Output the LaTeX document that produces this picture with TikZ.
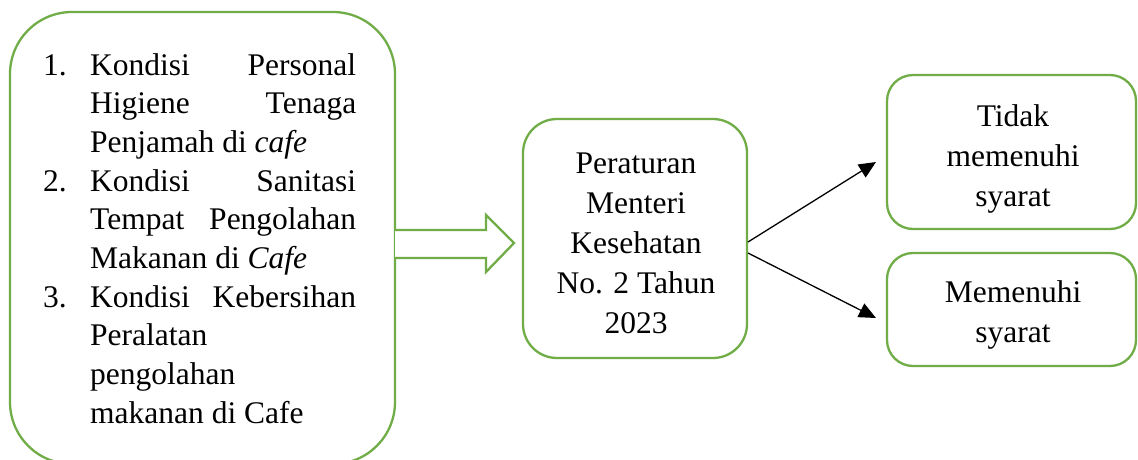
\documentclass[tikz,border=0pt]{standalone}
\usepackage{fontspec}
\setmainfont{Liberation Serif}
\usetikzlibrary{arrows.meta}
\definecolor{boxgreen}{HTML}{70AD47}
\tikzset{
  gbox/.style={draw=boxgreen, line width=2.3pt, rounded corners=#1, fill=white},
  txt/.style={inner sep=0pt, font=\fontsize{31.5}{40}\selectfont},
  conn/.style={line width=1.3pt, -{Triangle[length=17pt,width=15pt]}},
}
\begin{document}
\begin{tikzpicture}[x=1pt,y=-1pt]
\useasboundingbox (0,0) rectangle (1138,459);
\clip (0,0) rectangle (1138,459);
\fill[white] (0,0) rectangle (1138,459);
% left box
\draw[gbox=62pt] (10,12) rectangle (395,464);
\node[txt, anchor=base west] (lefttext) at (43,75) {\parbox[t]{320pt}{\fontsize{31.5}{38.7}\selectfont
\makebox[47pt][l]{1.}\hbox to 266pt{Kondisi\hfill Personal}\\
\hspace*{47pt}\hbox to 266pt{Higiene\hfill Tenaga}\\
\hspace*{47pt}Penjamah di \textit{cafe}\\
\makebox[47pt][l]{2.}\hbox to 266pt{Kondisi\hfill Sanitasi}\\
\hspace*{47pt}\hbox to 266pt{Tempat\hfill Pengolahan}\\
\hspace*{47pt}Makanan di \textit{Cafe}\\
\makebox[47pt][l]{3.}\hbox to 266pt{Kondisi\hfill Kebersihan}\\
\hspace*{47pt}Peralatan\\
\hspace*{47pt}pengolahan\\
\hspace*{47pt}makanan di Cafe}};
% middle box
\draw[gbox=34pt] (523,119) rectangle (747,358);
\node[txt, align=center, anchor=base] (mid) at (636,333) {Peraturan\\Menteri\\Kesehatan\\No. 2 Tahun\\2023};
% hollow arrow
\draw[boxgreen, line width=2.3pt, line join=miter, fill=white]
  (395,230) -- (486,230) -- (486,215) -- (514,243) -- (486,272) -- (486,258) -- (395,258);
% right boxes
\draw[gbox=26pt] (887,75) rectangle (1136,229);
\node[txt, align=center, anchor=base] (tms) at (1013,206) {Tidak\\memenuhi\\syarat};
\draw[gbox=26pt] (887,253) rectangle (1136,366);
\node[txt, align=center, anchor=base] (ms) at (1013,342) {Memenuhi\\syarat};
% connectors
\coordinate (s1) at (748,242);
\coordinate (t1) at (876,162);
\coordinate (s2) at (748,253);
\coordinate (t2) at (876,318);
\draw[conn] (s1) -- (t1);
\draw[conn] (s2) -- (t2);
\end{tikzpicture}
\end{document}
